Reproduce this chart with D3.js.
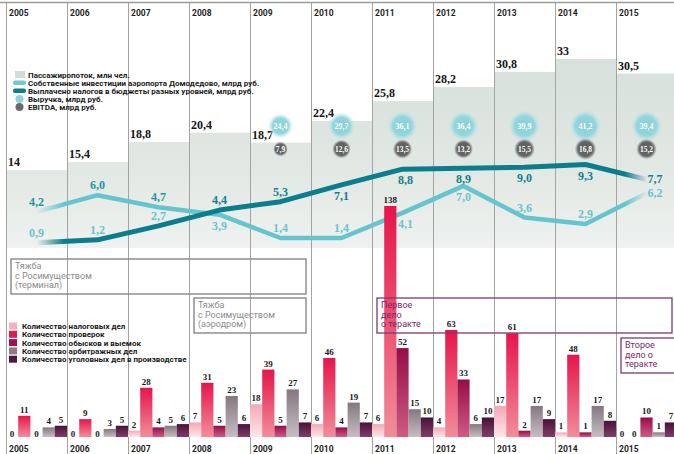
<!DOCTYPE html>
<html>
<head>
<meta charset="utf-8">
<script src="https://cdn.jsdelivr.net/npm/d3@7"></script>
<style>
body { margin: 0; background: #fff; }
svg { display: block; }
.year { font: bold 8.5px Roboto, sans-serif; fill: #1e1e1e; }
.legend { font: bold 8px Roboto, sans-serif; fill: #1a1a1a; }
.num { font-family: "Liberation Serif", serif; font-weight: bold; }
.note { font: 9px Roboto, sans-serif; }
</style>
</head>
<body>
<script>
var WIDTH = 674, HEIGHT = 454;

var years = [2005, 2006, 2007, 2008, 2009, 2010, 2011, 2012, 2013, 2014, 2015];
var passengers = [14, 15.4, 18.8, 20.4, 18.7, 22.4, 25.8, 28.2, 30.8, 33, 30.5];
var investments = [4.2, 6.0, 4.7, 3.9, 1.4, 1.4, 4.1, 7.0, 3.6, 2.9, 6.2];
var taxesPaid = [0.9, 1.2, 2.7, 4.4, 5.3, 7.1, 8.8, 8.9, 9.0, 9.3, 7.7];

var revenueYears = [2009, 2010, 2011, 2012, 2013, 2014, 2015];
var revenue = [24.4, 29.7, 36.1, 36.4, 39.9, 41.2, 39.4];
var ebitda = [7.9, 12.6, 13.5, 13.2, 15.5, 16.8, 15.2];

var taxCases = [0, 0, 2, 7, 18, 6, 6, 4, 17, 1, 0];
var inspections = [11, 9, 28, 31, 39, 46, 138, 63, 61, 48, 0];
var searches = [0, 0, 4, 5, 5, 4, 52, 33, 2, 1, 10];
var arbitration = [4, 3, 5, 23, 27, 19, 15, 6, 17, 17, 1];
var criminal = [5, 5, 6, 6, 7, 7, 10, 10, 9, 8, 7];

// where each line label sits relative to its point
var investLabelSide = ['up', 'up', 'up', 'down', 'up', 'up', 'down', 'down', 'up', 'up', 'end'];
var taxLabelSide = ['up', 'up', 'up', 'up', 'up', 'down', 'down', 'down', 'down', 'down', 'end'];

var svg = d3.select('body').append('svg')
	.attr('width', WIDTH)
	.attr('height', HEIGHT);
var defs = svg.append('defs');

var x = d3.scaleBand().domain(years).range([6, 6 + 61 * years.length]).padding(0);
var colW = x.bandwidth();
var cx = function (year) { return x(year) + colW / 2; };

var yPass = d3.scaleLinear().domain([0, 33]).range([252, 59]);
var yLine = d3.scaleLinear().domain([0, 9.3]).range([251, 164.5]);
var yBar = d3.scaleLinear().domain([0, 138]).range([434, 206]);
var BASE = 437;

// ---------- passenger step area ----------
var pg = defs.append('linearGradient').attr('id', 'passGrad')
	.attr('gradientUnits', 'userSpaceOnUse')
	.attr('x1', 0).attr('x2', 0).attr('y1', 55).attr('y2', 250);
pg.append('stop').attr('offset', 0).attr('stop-color', '#d7e0da');
pg.append('stop').attr('offset', 0.6).attr('stop-color', '#e2e8e4');
pg.append('stop').attr('offset', 1).attr('stop-color', '#eff2f0');

svg.append('g').selectAll('rect')
	.data(years)
	.enter().append('rect')
	.attr('x', function (d) { return x(d); })
	.attr('width', colW)
	.attr('y', function (d, i) { return yPass(passengers[i]); })
	.attr('height', function (d, i) { return 248 - yPass(passengers[i]); })
	.attr('fill', 'url(#passGrad)');

svg.append('g').selectAll('text')
	.data(years)
	.enter().append('text')
	.attr('class', 'num')
	.attr('x', function (d) { return x(d) + 2; })
	.attr('y', function (d, i) { return yPass(passengers[i]) - 4; })
	.attr('font-size', 12)
	.attr('fill', '#151515')
	.text(function (d, i) { return String(passengers[i]).replace('.', ','); });

// ---------- grid ----------
svg.append('line')
	.attr('x1', 0).attr('x2', WIDTH).attr('y1', 2.5).attr('y2', 2.5)
	.attr('stroke', '#9a9a9a').attr('stroke-width', 1.5);

svg.append('g').selectAll('line')
	.data(years)
	.enter().append('line')
	.attr('x1', function (d) { return x(d) + 0.5; })
	.attr('x2', function (d) { return x(d) + 0.5; })
	.attr('y1', 3).attr('y2', HEIGHT)
	.attr('stroke', '#a3a3a3').attr('stroke-width', 1);

var yearRow = function (yPos) {
	svg.append('g').selectAll('text')
		.data(years)
		.enter().append('text')
		.attr('class', 'year')
		.attr('x', function (d) { return x(d) + 3; })
		.attr('y', yPos)
		.text(function (d) { return d; });
};
yearRow(16);
yearRow(452);

// ---------- legend (top) ----------
var topLegend = [
	{ label: 'Пассажиропоток, млн чел.', kind: 'square', color: '#d3dcd7' },
	{ label: 'Собственные инвестиции аэропорта Домодедово, млрд руб.', kind: 'bar', color: '#6fc8d2' },
	{ label: 'Выплачено налогов в бюджеты разных уровней, млрд руб.', kind: 'bar', color: '#0f7d8b' },
	{ label: 'Выручка, млрд руб.', kind: 'dot', color: '#8ed3d9' },
	{ label: 'EBITDA, млрд руб.', kind: 'dot', color: '#6a6a6a' }
];
var tl = svg.append('g').selectAll('g')
	.data(topLegend)
	.enter().append('g')
	.attr('transform', function (d, i) { return 'translate(0,' + (75 + i * 8) + ')'; });
tl.each(function (d) {
	var g = d3.select(this);
	if (d.kind === 'square') {
		g.append('rect').attr('x', 15).attr('y', -4).attr('width', 10).attr('height', 7).attr('fill', d.color);
	} else if (d.kind === 'bar') {
		g.append('rect').attr('x', 13).attr('y', -2.5).attr('width', 13).attr('height', 4.5).attr('rx', 2).attr('fill', d.color);
	} else {
		g.append('circle').attr('cx', 19.5).attr('cy', 0).attr('r', 4).attr('fill', d.color);
	}
	g.append('text').attr('class', 'legend').attr('x', 28).attr('y', 3).text(d.label);
});

// ---------- lines ----------
var fade = defs.append('linearGradient').attr('id', 'lineFade')
	.attr('gradientUnits', 'userSpaceOnUse')
	.attr('x1', cx(years[0])).attr('x2', cx(years[years.length - 1]))
	.attr('y1', 0).attr('y2', 0);
fade.append('stop').attr('offset', 0).attr('stop-color', '#fff').attr('stop-opacity', 0);
fade.append('stop').attr('offset', 0.045).attr('stop-color', '#fff').attr('stop-opacity', 1);
fade.append('stop').attr('offset', 0.965).attr('stop-color', '#fff').attr('stop-opacity', 1);
fade.append('stop').attr('offset', 1).attr('stop-color', '#fff').attr('stop-opacity', 0.05);
defs.append('mask').attr('id', 'fadeMask').attr('maskUnits', 'userSpaceOnUse')
	.attr('x', 0).attr('y', 0).attr('width', WIDTH).attr('height', HEIGHT)
	.append('rect').attr('x', 0).attr('y', 0).attr('width', WIDTH).attr('height', HEIGHT)
	.attr('fill', 'url(#lineFade)');

var line = d3.line()
	.x(function (d, i) { return cx(years[i]); })
	.y(function (d) { return yLine(d); });

var lines = svg.append('g').attr('mask', 'url(#fadeMask)');
lines.append('path').datum(investments)
	.attr('d', line).attr('fill', 'none')
	.attr('stroke', '#66c4cf').attr('stroke-width', 4.5).attr('stroke-linejoin', 'round');
lines.append('path').datum(taxesPaid)
	.attr('d', line).attr('fill', 'none')
	.attr('stroke', '#0c7d8c').attr('stroke-width', 5).attr('stroke-linejoin', 'round');

function lineLabels(values, sides, colorFor) {
	svg.append('g').selectAll('text')
		.data(values)
		.enter().append('text')
		.attr('class', 'num')
		.attr('font-size', 12)
		.attr('text-anchor', function (d, i) { return sides[i] === 'end' ? 'start' : 'middle'; })
		.attr('x', function (d, i) {
			var px = cx(years[i]);
			return sides[i] === 'end' ? px + 1 : (sides[i] === 'down' && i === 6 ? px + 3 : px);
		})
		.attr('y', function (d, i) {
			var py = yLine(d);
			if (sides[i] === 'up') return py - 6;
			if (sides[i] === 'down') return py + 15;
			return py + 4;
		})
		.attr('fill', colorFor)
		.text(function (d) { return d.toFixed(1).replace('.', ','); });
}
lineLabels(investments, investLabelSide, function (d, i) { return i < 3 ? '#2a93a3' : '#6cc3cd'; });
lineLabels(taxesPaid, taxLabelSide, function (d, i) { return i < 3 ? '#6cc3cd' : '#137f8e'; });

// ---------- revenue / EBITDA bubbles ----------
var rg = defs.append('radialGradient').attr('id', 'revGrad');
rg.append('stop').attr('offset', 0).attr('stop-color', '#86cfd5');
rg.append('stop').attr('offset', 0.62).attr('stop-color', '#95d6db');
rg.append('stop').attr('offset', 1).attr('stop-color', '#c4e9eb').attr('stop-opacity', 0);
var eg = defs.append('radialGradient').attr('id', 'ebGrad');
eg.append('stop').attr('offset', 0).attr('stop-color', '#595959');
eg.append('stop').attr('offset', 0.72).attr('stop-color', '#666');
eg.append('stop').attr('offset', 1).attr('stop-color', '#8c8c8c').attr('stop-opacity', 0.2);

var rRev = d3.scaleSqrt().domain([0, 41.2]).range([0, 16.5]);
var rEb = d3.scaleSqrt().domain([0, 16.8]).range([0, 10.5]);

function bubbles(values, yPos, rScale, fill, size) {
	var g = svg.append('g').selectAll('g')
		.data(values)
		.enter().append('g')
		.attr('transform', function (d, i) { return 'translate(' + cx(revenueYears[i]) + ',' + yPos + ')'; });
	g.append('circle').attr('r', function (d) { return rScale(d); }).attr('fill', fill);
	g.append('text').attr('class', 'num')
		.attr('font-size', size).attr('fill', '#fff')
		.attr('text-anchor', 'middle').attr('y', 2.7)
		.text(function (d) { return d.toFixed(1).replace('.', ','); });
}
bubbles(revenue, 126, rRev, 'url(#revGrad)', 8);
bubbles(ebitda, 149, rEb, 'url(#ebGrad)', 7.5);

// ---------- bars ----------
var barSeries = [
	{ label: 'Количество налоговых дел', values: taxCases, top: '#f3a9b5', bottom: '#fce6e9', swatch: '#f4b4be' },
	{ label: 'Количество проверок', values: inspections, top: '#e6154b', bottom: '#f28d9a', swatch: '#e51a4c' },
	{ label: 'Количество обысков и выемок', values: searches, top: '#960d47', bottom: '#cf5b83', swatch: '#a01250' },
	{ label: 'Количество арбитражных дел', values: arbitration, top: '#85777f', bottom: '#c6bec3', swatch: '#8a7d86' },
	{ label: 'Количество уголовных дел в производстве', values: criminal, top: '#4a1138', bottom: '#7f3f67', swatch: '#4e1a3e' }
];
var inner = d3.scaleBand().domain(d3.range(barSeries.length)).range([0, colW]).padding(0);

barSeries.forEach(function (s, k) {
	var gr = defs.append('linearGradient').attr('id', 'bar' + k)
		.attr('x1', 0).attr('x2', 0).attr('y1', 0).attr('y2', 1);
	gr.append('stop').attr('offset', 0).attr('stop-color', s.top);
	gr.append('stop').attr('offset', 1).attr('stop-color', s.bottom);
});

var barG = svg.append('g');
barSeries.forEach(function (s, k) {
	var sel = barG.append('g');
	var rows = s.values.map(function (v, i) { return { year: years[i], value: v }; });
	sel.selectAll('rect')
		.data(rows.filter(function (r) { return r.value > 0; }))
		.enter().append('rect')
		.attr('x', function (r) { return x(r.year) + inner(k); })
		.attr('width', inner.bandwidth())
		.attr('y', function (r) { return yBar(r.value); })
		.attr('height', function (r) { return BASE - yBar(r.value); })
		.attr('fill', 'url(#bar' + k + ')');
	sel.selectAll('text')
		.data(rows)
		.enter().append('text')
		.attr('class', 'num')
		.attr('font-size', 9)
		.attr('fill', '#1a1a1a')
		.attr('text-anchor', 'middle')
		.attr('x', function (r) { return x(r.year) + inner(k) + inner.bandwidth() / 2; })
		.attr('y', function (r) { return r.value > 0 ? yBar(r.value) - 3 : BASE; })
		.text(function (r) { return r.value; });
});

var bl = svg.append('g').selectAll('g')
	.data(barSeries)
	.enter().append('g')
	.attr('transform', function (d, i) { return 'translate(0,' + (326 + i * 8.3) + ')'; });
bl.append('rect').attr('x', 9).attr('y', -3.5).attr('width', 8).attr('height', 7)
	.attr('fill', function (d) { return d.swatch; });
bl.append('text').attr('class', 'legend').attr('x', 22).attr('y', 3)
	.text(function (d) { return d.label; });

// ---------- annotation boxes ----------
var notes = [
	{ from: 2005, to: 2009, top: 259, lines: ['Тяжба', 'с Росимуществом', '(терминал)'], stroke: '#7e7e7e', color: '#8c8c8c', weight: 400 },
	{ from: 2008, to: 2009, top: 298, lines: ['Тяжба', 'с Росимуществом', '(аэродром)'], stroke: '#7e7e7e', color: '#8c8c8c', weight: 400 },
	{ from: 2011, to: 2015, top: 298, lines: ['Первое', 'дело', 'о теракте'], stroke: '#7d3a72', color: '#7a2868', weight: 500 },
	{ from: 2015, to: null, top: 338, lines: ['Второе', 'дело о', 'теракте'], stroke: '#7d3a72', color: '#7a2868', weight: 500 }
];
var ng = svg.append('g').selectAll('g')
	.data(notes)
	.enter().append('g');
ng.append('rect')
	.attr('x', function (d) { return x(d.from) + 5; })
	.attr('y', function (d) { return d.top; })
	.attr('width', function (d) { return (d.to ? x(d.to) + 56 : WIDTH + 10) - (x(d.from) + 5); })
	.attr('height', 35)
	.attr('fill', 'none')
	.attr('stroke', function (d) { return d.stroke; })
	.attr('stroke-width', 1.3);
ng.each(function (d) {
	var t = d3.select(this).append('text')
		.attr('class', 'note')
		.attr('fill', d.color)
		.attr('font-weight', d.weight);
	d.lines.forEach(function (ln, j) {
		t.append('tspan')
			.attr('x', x(d.from) + 9)
			.attr('y', d.top + 10 + j * 9.6)
			.text(ln);
	});
});
</script>
</body>
</html>
